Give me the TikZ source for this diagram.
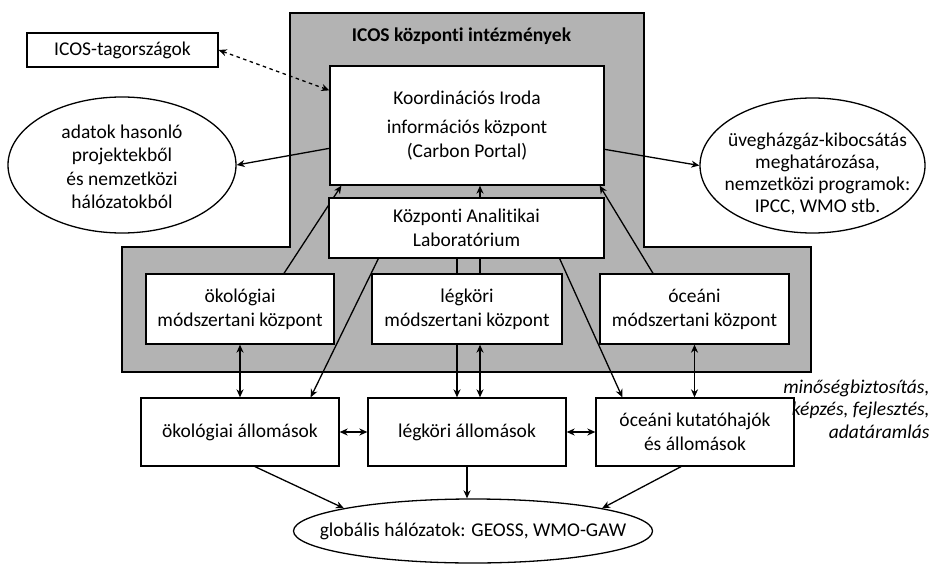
\documentclass[tikz,border=0pt]{standalone}
\usepackage{fontspec}
\setmainfont{Carlito}[Ligatures=NoCommon]
\usetikzlibrary{shapes.geometric,arrows.meta}
\definecolor{grayfill}{RGB}{179,179,179}
\pgfdeclarelayer{bglayer}
\pgfdeclarelayer{midlayer}
\pgfsetlayers{bglayer,midlayer,main}
\tikzset{
  box/.style={draw, fill=white, line width=1.3pt, inner sep=2pt, align=center},
  ell/.style={draw, ellipse, fill=white, line width=1.3pt, inner sep=0pt},
  elltext/.style={align=center, anchor=center, inner sep=0pt},
  tip/.tip={Stealth[length=8pt,width=7pt,inset=2.5pt]},
  conn/.style={line width=1.3pt, -tip},
  bconn/.style={line width=1.3pt, tip-tip},
  plainline/.style={line width=1.3pt},
}
\begin{document}
\begin{tikzpicture}[x=1pt,y=-1pt, font=\fontsize{19.5}{24}\selectfont]
\useasboundingbox (0,0) rectangle (936,564);
\begin{pgfonlayer}{bglayer}
\fill[white] (0,0) rectangle (936,564);
\draw[fill=grayfill, line width=1.3pt] (290,13) -- (644,13) -- (644,247) -- (811,247) -- (811,372) -- (122,372) -- (122,247) -- (290,247) -- cycle;
\end{pgfonlayer}

\node[font=\fontsize{19.5}{24}\selectfont\bfseries] (title) at (461.5,36) {ICOS központi intézmények};

\node[box, minimum width=191, minimum height=34] (tag) at (122.5,50) {ICOS-tagországok};
\node[box, minimum width=274, minimum height=119] (koord) at (467,125.5) {Koordinációs Iroda\\[5pt]információs központ\\(Carbon Portal)};
\node[box, minimum width=275, minimum height=60] (anal) at (466.5,228) {Központi Analitikai\\Laboratórium};
\node[box, minimum width=188, minimum height=70] (ecom) at (240,309) {ökológiai\\módszertani központ};
\node[box, minimum width=190, minimum height=70] (atmm) at (467,309) {légköri\\módszertani központ};
\node[box, minimum width=189, minimum height=70] (ocem) at (694.5,309) {óceáni\\módszertani központ};
\node[box, minimum width=198, minimum height=68] (ecos) at (240,432) {ökológiai állomások};
\node[box, minimum width=198, minimum height=68] (atms) at (467,432) {légköri állomások};
\node[box, minimum width=198, minimum height=68] (oces) at (695,432) {óceáni kutatóhajók\\és állomások};

\node[ell, minimum width=228, minimum height=136] (lell) at (122,165) {};
\node[elltext, font=\fontsize{19.5}{23.5}\selectfont] (lelltext) at ([yshift=-2pt]lell.center) {adatok hasonló\\projektekből\\és nemzetközi\\hálózatokból};
\node[ell, minimum width=225, minimum height=135] (rell) at (812.5,165.5) {};
\node[elltext, font=\fontsize{19.5}{22}\selectfont] (relltext) at ([xshift=5pt,yshift=-8pt]rell.center) {üvegházgáz-kibocsátás\\meghatározása,\\nemzetközi programok:\\IPCC, WMO stb.};
\node[ell, minimum width=359, minimum height=64] (glob) at (473,531) {};
\node[elltext] (globtext) at (glob.center) {globális hálózatok: GEOSS, WMO-GAW};

\node[align=right, anchor=east, font=\fontsize{19.5}{22.5}\selectfont\itshape] (note) at (933,409) {minőségbiztosítás,\\képzés, fejlesztés,\\adatáramlás};

\begin{pgfonlayer}{midlayer}
\draw[bconn, dash pattern=on 3.5pt off 3.5pt] (tag.east) -- ([yshift=-25pt]koord.north west);
\draw[conn] ([yshift=-83pt]koord.north west) -- (lell.east);
\draw[conn] ([yshift=-84pt]koord.north east) -- (rell.west);
\draw[conn] ([xshift=44pt]ecom.north) -- ([xshift=12pt]koord.south west);
\draw[conn] ([xshift=13.5pt]anal.north) -- ([xshift=13pt]koord.south);
\draw[conn] ([xshift=-41.5pt]ocem.north) -- ([xshift=-5pt]koord.south east);
\draw[plainline] ([xshift=13.5pt]anal.south) -- ([xshift=13pt]atmm.north);
\draw[conn] ([xshift=-9.5pt]anal.south) -- ([xshift=-10pt]atms.north);
\draw[bconn] ([xshift=13pt]atmm.south) -- ([xshift=13pt]atms.north);
\draw[bconn] (ecom.south) -- (ecos.north);
\draw[bconn] (ocem.south) -- (ocem.south |- oces.north);
\draw[conn] ([xshift=50pt]anal.south west) -- ([xshift=-29pt]ecos.north east);
\draw[conn] ([xshift=-45pt]anal.south east) -- ([xshift=27pt]oces.north west);
\draw[bconn] (ecos.east) -- (atms.west);
\draw[bconn] (atms.east) -- (oces.west);
\draw[conn] ([xshift=15pt]ecos.south) -- (glob.170);
\draw[conn] (atms.south) -- (atms.south |- glob.north);
\draw[conn] ([xshift=-14pt]oces.south) -- (glob.10);
\end{pgfonlayer}
\end{tikzpicture}
\end{document}
